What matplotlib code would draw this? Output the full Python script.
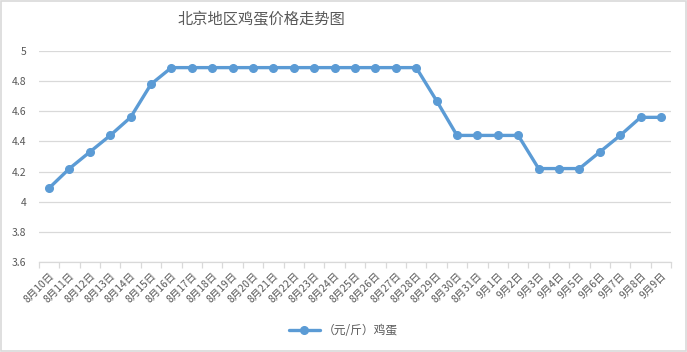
import matplotlib
matplotlib.use("Agg")
import matplotlib.pyplot as plt
from matplotlib.patches import Rectangle

plt.rcParams['font.family'] = ['Noto Sans CJK SC', 'DejaVu Sans']

dates = ["8月10日", "8月11日", "8月12日", "8月13日", "8月14日", "8月15日", "8月16日",
         "8月17日", "8月18日", "8月19日", "8月20日", "8月21日", "8月22日", "8月23日",
         "8月24日", "8月25日", "8月26日", "8月27日", "8月28日", "8月29日", "8月30日",
         "8月31日", "9月1日", "9月2日", "9月3日", "9月4日", "9月5日", "9月6日",
         "9月7日", "9月8日", "9月9日"]
prices = [4.09, 4.22, 4.33, 4.44, 4.56, 4.78, 4.89,
          4.89, 4.89, 4.89, 4.89, 4.89, 4.89, 4.89,
          4.89, 4.89, 4.89, 4.89, 4.89, 4.67, 4.44,
          4.44, 4.44, 4.44, 4.22, 4.22, 4.22, 4.33,
          4.44, 4.56, 4.56]
yticks = [3.6, 3.8, 4.0, 4.2, 4.4, 4.6, 4.8, 5.0]
ytick_labels = ["3.6", "3.8", "4", "4.2", "4.4", "4.6", "4.8", "5"]
series_name = "（元/斤）鸡蛋"
title = "北京地区鸡蛋价格走势图"

fig = plt.figure(figsize=(6.87, 3.52), dpi=100)
ax = fig.add_axes([0.0565, 0.2557, 0.9205, 0.5993])

x = list(range(len(dates)))
line_color = "#5B9BD5"
ax.plot(x, prices, color=line_color, linewidth=2.4, marker='o', markersize=5.5,
        label=series_name, solid_capstyle='round')

ax.set_xlim(-0.5, len(dates) - 0.5)
ax.set_ylim(3.6, 5.0)
ax.set_yticks(yticks)
ax.set_yticklabels(ytick_labels)
ax.yaxis.grid(True, color="#D9D9D9", linewidth=0.9)
ax.set_axisbelow(True)

for s in ['top', 'right', 'left']:
    ax.spines[s].set_visible(False)
ax.spines['bottom'].set_color("#D9D9D9")
ax.spines['bottom'].set_linewidth(0.9)

ax.tick_params(axis='y', length=0, colors="#595959", labelsize=7.5, pad=9)
ax.set_xticks([i + 0.5 for i in range(-1, len(dates))], minor=False)
ax.set_xticklabels([])
ax.tick_params(axis='x', which='major', length=4, color="#D9D9D9", width=0.9)
ax.set_xticks(x, minor=True)
ax.set_xticklabels(dates, minor=True, rotation=45, ha='right', va='top',
                   rotation_mode='anchor')
ax.tick_params(axis='x', which='minor', length=0, colors="#595959", labelsize=7.5, pad=6)

fig.text(0.38, 0.943, title, ha='center', va='center', fontsize=11,
         color="#595959")

leg = fig.legend(loc='center', bbox_to_anchor=(0.5, 0.06), frameon=False,
                 fontsize=8.5, handlelength=2.6, handletextpad=0.3,
                 labelcolor="#595959")

fig.patches.append(Rectangle((0.001, 0.002), 0.997, 0.995, transform=fig.transFigure,
                             fill=False, edgecolor="#D9D9D9", linewidth=1.2))

fig.savefig("out.png", dpi=100)
